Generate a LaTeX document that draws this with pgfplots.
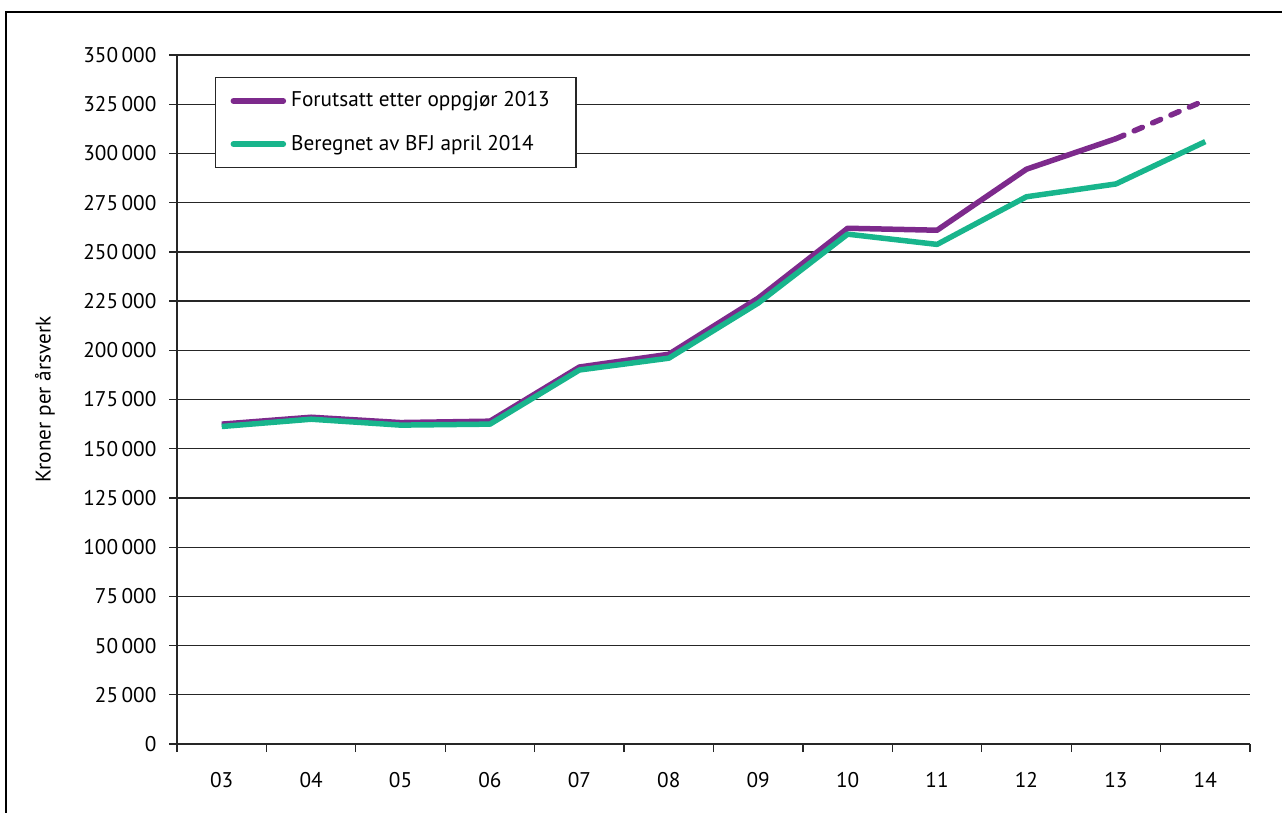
\documentclass[border=0pt]{standalone}
\usepackage{fontspec}
\setmainfont{PT Sans}
\usepackage{pgfplots}
\pgfplotsset{compat=1.18}
\definecolor{lila}{RGB}{125,42,140}
\definecolor{gronn}{RGB}{24,181,140}
\begin{document}
\fontsize{8.5}{10}\selectfont
\begin{tikzpicture}
\useasboundingbox (0,0) rectangle (512.8pt,-324.8pt);
\draw[line width=0.9pt] (2.4pt,-330pt) -- (2.4pt,-4.8pt) -- (520pt,-4.8pt);
\begin{axis}[
  at={(70.8pt,-297.6pt)}, anchor=south west,
  scale only axis, width=429.2pt, height=275.6pt,
  xmin=-0.5, xmax=11.5, ymin=0, ymax=350000,
  scaled y ticks=false,
  axis lines=left, axis line style={-, black!85, line width=0.5pt},
  ytick={0,25000,50000,75000,100000,125000,150000,175000,200000,225000,250000,275000,300000,325000,350000},
  yticklabels={0,25\,000,50\,000,75\,000,100\,000,125\,000,150\,000,175\,000,200\,000,225\,000,250\,000,275\,000,300\,000,325\,000,350\,000},
  ymajorgrids, grid style={black!85, line width=0.5pt},
  xtick={0,...,11},
  xticklabels={03,04,05,06,07,08,09,10,11,12,13,14},
  minor xtick={-0.5,0.5,...,11.5},
  tick align=outside, major tick length=3.2pt, minor tick length=3.2pt,
  tick style={black!85, line width=0.5pt},
  major x tick style={draw=none},
  xticklabel style={yshift=-5pt, font=\fontsize{8.5}{10}\selectfont},
  yticklabel style={xshift=-2pt, font=\fontsize{8.5}{10}\selectfont},
  ylabel={Kroner per årsverk},
  ylabel style={at={(axis description cs:-0.123,0.5)}, anchor=center, font=\fontsize{8.5}{10}\selectfont},
  legend style={at={(axis description cs:0.0354,0.968)}, anchor=north west,
    draw=black!85, line width=0.5pt, row sep=6pt, inner xsep=6pt, inner ysep=3.6pt,
    font=\fontsize{8.5}{10}\selectfont},
  legend cell align=left,
  legend image code/.code={\draw[#1, solid, line cap=round] (0pt,0pt) -- (20pt,0pt);},
]
\addplot[lila, line width=2.2pt, line join=round] coordinates {
 (0,162500)(1,166000)(2,163300)(3,164000)(4,191500)(5,198000)(6,226500)(7,262000)(8,261000)(9,292000)(10,307500)};
\addlegendentry{\makebox[106pt][l]{Forutsatt etter oppgjør 2013}}
\addplot[gronn, line width=2.2pt, line join=round] coordinates {
 (0,161300)(1,165000)(2,162000)(3,162500)(4,190000)(5,196000)(6,224000)(7,259000)(8,253800)(9,278000)(10,284500)(11,306000)};
\addlegendentry{Beregnet av BFJ april 2014}
\addplot[lila, line width=2.2pt, line cap=round, dash pattern=on 3.5pt off 4.5pt, forget plot] coordinates {
 (10,307500)(11,327000)};
\end{axis}
\end{tikzpicture}
\end{document}
